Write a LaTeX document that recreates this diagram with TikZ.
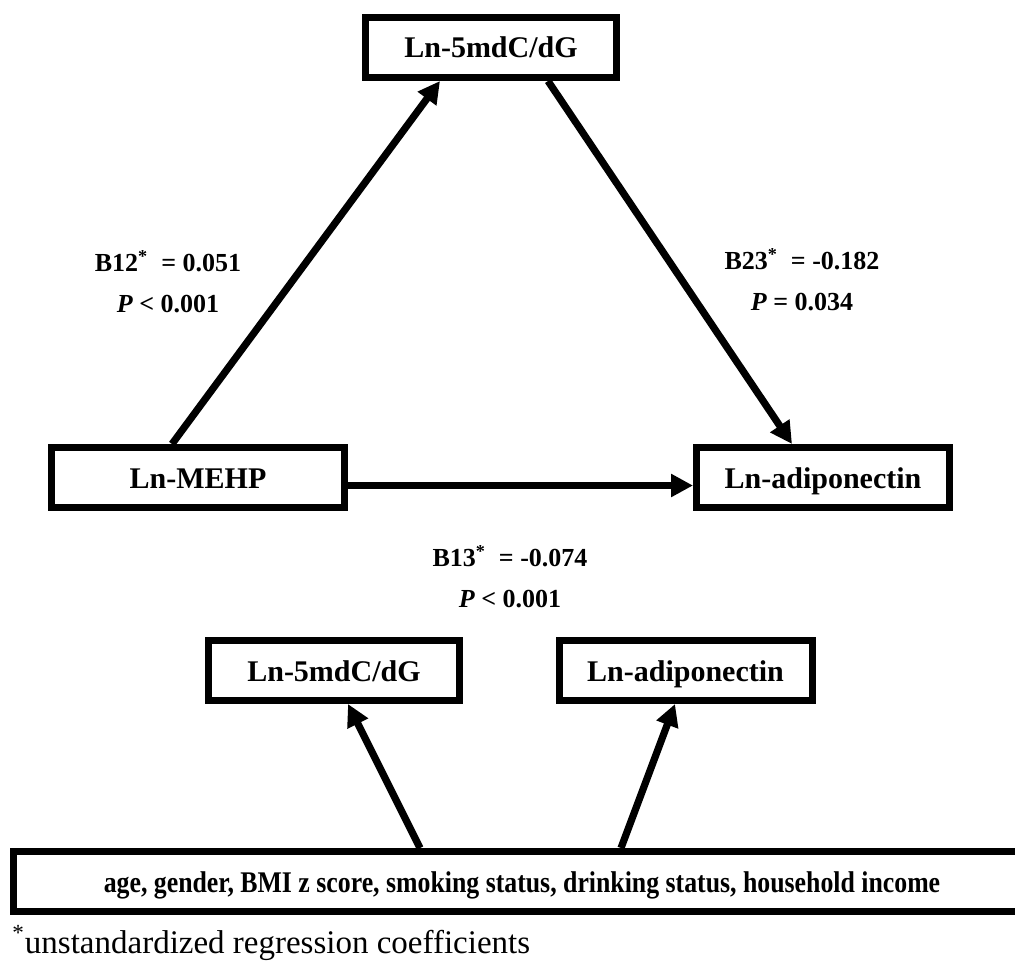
\documentclass[tikz,border=0pt]{standalone}
\usepackage{graphicx}
\usepackage{fontspec}
\setmainfont{Liberation Serif}
\usetikzlibrary{arrows.meta}

\begin{document}
\begin{tikzpicture}[x=0.5pt,y=-0.5pt]
    \useasboundingbox (0,0) rectangle (1015,962);

    \tikzset{
        var/.style={draw, line width=3.5pt, minimum height=30pt, inner sep=0pt,
            text height=11pt, text depth=0.5pt,
            font=\bfseries\fontsize{15}{18}\selectfont},
        coef/.style={align=center, font=\bfseries\fontsize{13}{20.5}\selectfont},
        link/.style={line width=3.6pt, -{Triangle[length=11pt,width=11pt]}},
    }

    % mediation model
    \node[var, minimum width=125.5pt] (dna) at (491,47.5) {Ln-5mdC/dG};
    \node[var, minimum width=146.5pt] (mehp) at (198,477.5) {Ln-MEHP};
    \node[var, minimum width=126.5pt] (adipo) at (823,477.5) {Ln-adiponectin};

    \draw[link] ([xshift=-13pt]mehp.north) -- ([xshift=-25.5pt]dna.south);
    \draw[link] ([xshift=28.5pt]dna.south) -- ([xshift=-15.5pt]adipo.north);
    \draw[link] ([yshift=-4pt]mehp.east) -- ([yshift=-4pt]adipo.west);

    \node[coef] (b12) at (168,282) {B12\textsuperscript{*}\ \ = 0.051\\\textit{P} < 0.001};
    \node[coef] (b23) at (802,280) {B23\textsuperscript{*}\ \ = -0.182\\\textit{P} = 0.034};
    \node[coef] (b13) at (510,577) {B13\textsuperscript{*}\ \ = -0.074\\\textit{P} < 0.001};

    % covariates
    \node[var, minimum width=125.5pt] (dnaadj) at (334,670.5) {Ln-5mdC/dG};
    \node[var, minimum width=126.5pt] (adipoadj) at (685.5,670.5) {Ln-adiponectin};
    \node[var, minimum width=508.5pt] (cov) at (522,881.5)
        {\scalebox{0.86}[1]{age, gender, BMI z score, smoking status, drinking status, household income}};

    \draw[link] ([xshift=-51pt]cov.north) -- ([xshift=7pt]dnaadj.south);
    \draw[link] ([xshift=49.5pt]cov.north) -- ([xshift=-5.25pt]adipoadj.south);

    \node[anchor=base west, inner sep=0pt, font=\fontsize{16.5}{20}\selectfont] (note)
        at (12,953) {\textsuperscript{*}unstandardized regression coefficients};
\end{tikzpicture}
\end{document}
